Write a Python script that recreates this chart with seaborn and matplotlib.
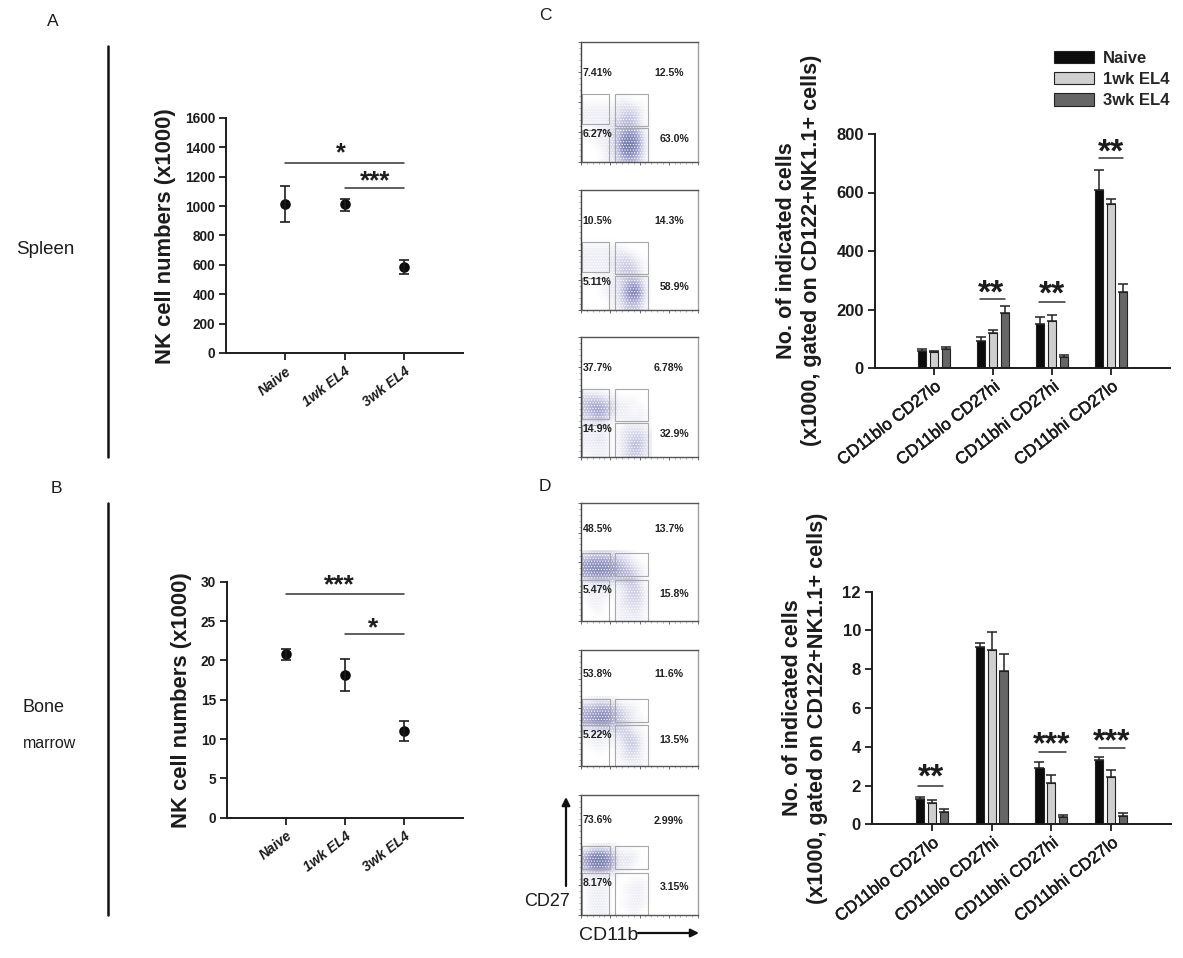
import matplotlib
matplotlib.use("Agg")
import matplotlib.pyplot as plt
import matplotlib.patheffects as pe
from matplotlib.colors import LinearSegmentedColormap
from matplotlib.patches import Rectangle
from matplotlib.ticker import MultipleLocator
import pandas as pd
import seaborn as sns

W, H = 1183, 958

# panels A and B
groups = ["Naive", "1wk EL4", "3wk EL4"]
spleen_mean = [1017, 1012, 586]
spleen_lo = [890, 967, 540]
spleen_hi = [1135, 1051, 631]
marrow_mean = [20.8, 18.2, 11.0]
marrow_lo = [20.1, 16.1, 9.7]
marrow_hi = [21.5, 20.2, 12.3]

# panels C and D
subsets = ["CD11blo CD27lo", "CD11blo CD27hi", "CD11bhi CD27hi", "CD11bhi CD27lo"]
spleen_bars = {
    "Naive": [59, 92, 150, 610],
    "1wk EL4": [55, 118, 162, 562],
    "3wk EL4": [64, 189, 39, 261],
}
spleen_tops = {
    "Naive": [64, 107, 174, 676],
    "1wk EL4": [59, 130, 180, 578],
    "3wk EL4": [72, 213, 43, 288],
}
marrow_bars = {
    "Naive": [1.30, 9.16, 2.92, 3.30],
    "1wk EL4": [1.08, 8.99, 2.11, 2.42],
    "3wk EL4": [0.65, 7.90, 0.40, 0.43],
}
marrow_tops = {
    "Naive": [1.41, 9.35, 3.23, 3.47],
    "1wk EL4": [1.25, 9.90, 2.54, 2.78],
    "3wk EL4": [0.81, 8.80, 0.46, 0.57],
}

# flow plots: event density read by eye, lower left part of each plot, top row first
c1_density = [
    [0, 0, 0, 0, 0, 0, 0, 0, 0, 0],
    [0, 0, 0, 0, 0, 1, 1, 0, 0, 0],
    [1, 1, 1, 1, 1, 2, 2, 2, 1, 0],
    [1, 1, 1, 1, 1, 2, 3, 3, 1, 0],
    [1, 1, 1, 1, 2, 3, 4, 3, 1, 0],
    [0, 0, 1, 1, 2, 3, 4, 4, 2, 0],
    [0, 0, 1, 1, 2, 4, 7, 6, 3, 0],
    [0, 0, 1, 1, 2, 4, 9, 7, 3, 0],
    [0, 0, 0, 1, 2, 4, 8, 6, 3, 0],
    [0, 0, 0, 1, 1, 3, 4, 4, 2, 0],
]
c2_density = [
    [0, 0, 0, 0, 0, 0, 0, 0, 0, 0],
    [1, 1, 1, 1, 1, 1, 0, 0, 0, 0],
    [1, 1, 1, 1, 1, 2, 2, 1, 0, 0],
    [1, 1, 1, 1, 2, 2, 3, 2, 1, 0],
    [1, 1, 1, 1, 1, 3, 3, 3, 1, 0],
    [0, 0, 1, 1, 1, 2, 3, 3, 2, 0],
    [0, 0, 0, 1, 1, 2, 4, 5, 3, 0],
    [0, 0, 0, 1, 1, 2, 5, 8, 4, 0],
    [0, 0, 0, 0, 1, 2, 4, 5, 3, 0],
    [0, 0, 0, 0, 1, 1, 3, 3, 2, 0],
]
c3_density = [
    [0, 0, 0, 0, 0, 0, 0, 0, 0, 0],
    [2, 2, 2, 1, 1, 0, 0, 0, 0, 0],
    [3, 4, 4, 3, 2, 1, 1, 1, 0, 0],
    [3, 4, 5, 4, 2, 1, 1, 0, 1, 0],
    [2, 3, 4, 3, 1, 1, 1, 1, 1, 0],
    [1, 1, 1, 1, 0, 0, 1, 1, 1, 0],
    [1, 1, 1, 1, 0, 1, 2, 2, 2, 1],
    [1, 1, 2, 1, 0, 1, 2, 3, 3, 1],
    [1, 1, 1, 1, 0, 1, 2, 4, 3, 1],
    [0, 1, 1, 1, 0, 1, 2, 3, 2, 1],
]
d1_density = [
    [1, 2, 2, 2, 2, 1, 1, 0, 0, 0],
    [4, 5, 5, 5, 4, 3, 2, 1, 0, 0],
    [5, 6, 6, 6, 5, 4, 3, 2, 1, 0],
    [4, 5, 6, 5, 5, 4, 4, 3, 1, 0],
    [1, 2, 2, 2, 2, 2, 3, 3, 1, 0],
    [0, 1, 1, 1, 0, 1, 2, 3, 2, 0],
    [0, 1, 1, 1, 0, 1, 2, 3, 2, 0],
    [0, 1, 1, 0, 0, 1, 2, 2, 2, 0],
    [0, 0, 1, 0, 0, 1, 1, 2, 1, 0],
    [0, 0, 0, 0, 0, 1, 1, 1, 1, 0],
]
d2_density = [
    [0, 1, 1, 1, 1, 0, 0, 0, 0, 0],
    [3, 3, 4, 4, 3, 2, 1, 1, 0, 0],
    [4, 5, 5, 6, 4, 3, 2, 1, 0, 0],
    [4, 5, 6, 6, 4, 3, 2, 1, 1, 0],
    [2, 2, 3, 3, 3, 3, 2, 1, 0, 0],
    [1, 1, 1, 1, 1, 2, 3, 2, 1, 0],
    [0, 1, 1, 1, 1, 1, 3, 3, 1, 0],
    [0, 0, 1, 0, 0, 1, 2, 3, 1, 0],
    [0, 0, 0, 0, 0, 1, 2, 2, 1, 0],
    [0, 0, 0, 0, 0, 0, 1, 1, 1, 0],
]
d3_density = [
    [0, 1, 1, 1, 1, 0, 0, 0, 0, 0],
    [3, 5, 6, 5, 3, 1, 1, 1, 0, 0],
    [4, 7, 9, 7, 4, 1, 2, 1, 0, 0],
    [3, 5, 6, 5, 3, 1, 1, 0, 0, 0],
    [1, 1, 1, 1, 1, 0, 0, 0, 0, 0],
    [0, 1, 1, 1, 0, 0, 0, 1, 1, 0],
    [0, 1, 1, 1, 0, 0, 1, 1, 1, 0],
    [0, 1, 1, 1, 0, 0, 0, 1, 1, 0],
    [0, 1, 1, 1, 0, 0, 1, 1, 1, 0],
    [0, 1, 1, 1, 0, 0, 0, 1, 0, 0],
]
c1_pct = ["7.41%", "12.5%", "6.27%", "63.0%"]
c2_pct = ["10.5%", "14.3%", "5.11%", "58.9%"]
c3_pct = ["37.7%", "6.78%", "14.9%", "32.9%"]
d1_pct = ["48.5%", "13.7%", "5.47%", "15.8%"]
d2_pct = ["53.8%", "11.6%", "5.22%", "13.5%"]
d3_pct = ["73.6%", "2.99%", "8.17%", "3.15%"]

sns.set_theme(style="ticks")
plt.rcParams["font.family"] = ["Liberation Sans", "DejaVu Sans"]
plt.rcParams["hatch.linewidth"] = 0.5
INK = "#1c1c1c"
BAR_COLORS = ["#0c0c0c", "#cfcfcf", "#666666"]
flow_cmap = LinearSegmentedColormap.from_list(
    "flow", ["#ffffff", "#e6e6f2", "#c6c6e2", "#a0a1cf", "#8387bb", "#727fa8", "#7f9c86"]
)

fig = plt.figure(figsize=(W / 100, H / 100), dpi=100)


def box(left, top, right, bottom):
    return fig.add_axes([left / W, 1 - bottom / H, (right - left) / W, (bottom - top) / H])


def fig_text(x, y, s, **kw):
    kw.setdefault("ha", "center")
    kw.setdefault("va", "center")
    kw.setdefault("color", INK)
    return fig.text(x / W, 1 - y / H, s, **kw)


def style_axis(ax, ymax, ystep, xmax):
    sns.despine(ax=ax)
    ax.set_xlim(-1, xmax)
    ax.set_ylim(0, ymax)
    ax.yaxis.set_major_locator(MultipleLocator(ystep))
    ax.set_xlabel("")
    ax.set_ylabel("")
    for side in ("left", "bottom"):
        ax.spines[side].set_linewidth(1.4)
        ax.spines[side].set_color(INK)
    ax.tick_params(width=1.3, length=5, color=INK, pad=3)
    ax.patch.set_alpha(0)


def sig(ax, x0, x1, y, stars, star_x, star_y, size):
    ax.plot([x0, x1], [y, y], color="#333333", lw=1.1, clip_on=False)
    ax.annotate(stars, (star_x, star_y), xytext=(0, -0.42 * size), textcoords="offset points",
                ha="center", va="baseline", fontsize=size, fontweight="bold", color=INK)


def point_panel(ax, mean, lo, hi, ymax, ystep):
    df = pd.DataFrame({"group": groups, "mean": mean})
    sns.pointplot(data=df, x="group", y="mean", order=groups, color="#0c0c0c", linestyle="none",
                  errorbar=None, marker="o", markersize=5.6, ax=ax)
    ax.errorbar(range(3), mean, yerr=[[m - l for m, l in zip(mean, lo)], [h - m for m, h in zip(mean, hi)]],
                fmt="none", ecolor=INK, elinewidth=1.2, capsize=3.8, capthick=1.2)
    style_axis(ax, ymax, ystep, 3)
    plt.setp(ax.get_yticklabels(), fontweight="bold", fontsize=9.8, color=INK)
    plt.setp(ax.get_xticklabels(), fontweight="bold", style="italic", fontsize=10,
             color=INK, rotation=38, ha="right", rotation_mode="anchor")


def bar_panel(ax, bars, tops, ymax, ystep):
    df = pd.DataFrame(bars, index=subsets).rename_axis("subset").reset_index()
    df = df.melt(id_vars="subset", var_name="group", value_name="count")
    sns.barplot(data=df, x="subset", y="count", hue="group", order=subsets, hue_order=groups,
                palette=BAR_COLORS, width=0.6, gap=0.32, errorbar=None, edgecolor="#222222",
                linewidth=0.8, ax=ax)
    for container, group in zip(ax.containers, groups):
        xs = [b.get_x() + b.get_width() / 2 for b in container]
        up = [t - v for t, v in zip(tops[group], bars[group])]
        ax.errorbar(xs, bars[group], yerr=[[0] * len(up), up], fmt="none", ecolor="#222222",
                    elinewidth=1.1, capsize=3.6, capthick=1.1)
    style_axis(ax, ymax, ystep, 4)
    plt.setp(ax.get_yticklabels(), fontweight="bold", fontsize=12, color=INK)
    plt.setp(ax.get_xticklabels(), fontsize=12.2, color="#1c1c1c", rotation=38, ha="right",
             rotation_mode="anchor", path_effects=[pe.withStroke(linewidth=0.4, foreground="#1c1c1c")])


def flow_panel(top, bottom, density, pct, gates, label_y):
    ax = box(581, top, 698, bottom)
    ax.imshow(density, extent=(0, 0.6, 0, 0.6), cmap=flow_cmap, vmin=0, vmax=9,
              interpolation="bicubic", aspect="auto", zorder=1)
    ax.set_xlim(0, 1)
    ax.set_ylim(0, 1)
    # white stipple so the cloud reads as dots rather than a smooth wash
    ax.add_patch(Rectangle((0, 0), 0.6, 0.6, fill=False, ec="white", lw=0, hatch="......", zorder=1.5))
    for x0, y0, x1, y1 in gates:
        ax.add_patch(Rectangle((x0, y0), x1 - x0, y1 - y0, fill=False, ec="#a8a8a8", lw=0.8, zorder=2))
    for side, color in (("left", "#444444"), ("top", "#555555"), ("bottom", "#555555"), ("right", "#a0a0a0")):
        ax.spines[side].set_visible(True)
        ax.spines[side].set_color(color)
        ax.spines[side].set_linewidth(1.0)
    ax.xaxis.set_major_locator(MultipleLocator(0.25))
    ax.yaxis.set_major_locator(MultipleLocator(0.25))
    ax.xaxis.set_minor_locator(MultipleLocator(0.05))
    ax.yaxis.set_minor_locator(MultipleLocator(0.05))
    ax.tick_params(which="major", length=2.5, width=0.6, color="#555555", labelbottom=False, labelleft=False)
    ax.tick_params(which="minor", length=1.2, width=0.4, color="#777777")
    xs = [0.015, 0.625, 0.015, 0.67]
    for x, y, s in zip(xs, label_y, pct):
        ax.text(x, y, s, fontsize=7.6, fontweight="bold", color="#222222", va="center", ha="left", zorder=3)


gates_c = [(0.005, 0.32, 0.24, 0.57), (0.29, 0.30, 0.57, 0.57), (0.005, 0.0, 0.24, 0.27), (0.29, 0.0, 0.57, 0.285)]
gates_d = [(0.005, 0.38, 0.25, 0.575), (0.29, 0.38, 0.57, 0.575), (0.005, 0.0, 0.24, 0.35), (0.29, 0.0, 0.57, 0.35)]

flow_panel(42, 162, c1_density, c1_pct, gates_c, [0.745, 0.745, 0.23, 0.195])
flow_panel(190, 310, c2_density, c2_pct, gates_c, [0.745, 0.745, 0.235, 0.19])
flow_panel(337, 457, c3_density, c3_pct, gates_c, [0.745, 0.745, 0.235, 0.19])
flow_panel(503, 621, d1_density, d1_pct, gates_d, [0.78, 0.78, 0.26, 0.225])
flow_panel(650, 766, d2_density, d2_pct, gates_d, [0.79, 0.79, 0.265, 0.225])
flow_panel(795, 915, d3_density, d3_pct, gates_d, [0.79, 0.785, 0.27, 0.23])

ax_a = box(226, 118, 463, 353)
point_panel(ax_a, spleen_mean, spleen_lo, spleen_hi, 1600, 200)
sig(ax_a, 0, 2, 1291, "*", 0.93, 1380, 18)
sig(ax_a, 1, 2, 1121, "***", 1.52, 1196, 18.5)

ax_b = box(227, 581.7, 463, 817.7)
point_panel(ax_b, marrow_mean, marrow_lo, marrow_hi, 30, 5)
sig(ax_b, 0, 2, 28.5, "***", 0.91, 30, 19)
sig(ax_b, 1, 2, 23.4, "*", 1.47, 24.6, 19)

ax_c = box(875, 134, 1170, 368)
bar_panel(ax_c, spleen_bars, spleen_tops, 800, 200)
sig(ax_c, 0.785, 1.21, 237, "**", 0.97, 272, 24)
sig(ax_c, 1.78, 2.225, 224.5, "**", 2.0, 267, 24)
sig(ax_c, 2.79, 3.21, 717, "**", 3.0, 754, 24)
sns.move_legend(ax_c, "upper left", bbox_to_anchor=(1054 / W, 1 - 50.5 / H), bbox_transform=fig.transFigure,
                title=None, frameon=False, handlelength=2.4, handleheight=0.78,
                labelspacing=0.38, handletextpad=0.54, borderpad=0, borderaxespad=0,
                prop={"weight": "bold", "size": 12})

ax_d = box(872, 591.7, 1171, 824.3)
bar_panel(ax_d, marrow_bars, marrow_tops, 12, 2)
ax_d.get_legend().remove()
sig(ax_d, -0.23, 0.19, 1.98, "**", -0.02, 2.66, 24)
sig(ax_d, 1.8, 2.24, 3.75, "***", 2.0, 4.35, 23)
sig(ax_d, 2.79, 3.23, 3.94, "***", 3.0, 4.49, 23)

fig_text(166, 236, "NK cell numbers (x1000)", rotation=90, fontsize=15.8, fontweight="bold")
fig_text(182, 700, "NK cell numbers (x1000)", rotation=90, fontsize=15.8, fontweight="bold")
fig_text(787, 251, "No. of indicated cells", rotation=90, fontsize=15.6, fontweight="bold")
fig_text(812, 250, "(x1000, gated on CD122+NK1.1+ cells)", rotation=90, fontsize=15.6, fontweight="bold")
fig_text(793, 708, "No. of indicated cells", rotation=90, fontsize=15.6, fontweight="bold")
fig_text(817, 708, "(x1000, gated on CD122+NK1.1+ cells)", rotation=90, fontsize=15.6, fontweight="bold")

for x, y, s, size in [(53, 22, "A", 12.5), (56, 488, "B", 12.5), (545, 15, "C", 12.5), (545, 486, "D", 12.5),
                      (45, 250, "Spleen", 13.5), (43, 708, "Bone", 13), (50, 743, "marrow", 11.5)]:
    fig_text(x, y, s, fontsize=size)

for top, bottom in [(46, 457), (503, 915)]:
    fig.add_artist(plt.Line2D([108 / W, 108 / W], [1 - top / H, 1 - bottom / H], color="#111111", lw=1.8))

fig_text(547, 902, "CD27", fontsize=13)
fig_text(608.5, 935, "CD11b", fontsize=14)
overlay = fig.add_axes([0, 0, 1, 1])
overlay.set_xlim(0, W)
overlay.set_ylim(H, 0)
overlay.axis("off")
overlay.annotate("", xy=(566, 797), xytext=(566, 886), arrowprops=dict(arrowstyle="-|>", color="#111111", lw=1.6, shrinkA=0, shrinkB=0))
overlay.annotate("", xy=(699, 933), xytext=(638, 933), arrowprops=dict(arrowstyle="-|>", color="#111111", lw=1.6, shrinkA=0, shrinkB=0))

fig.savefig("out.png", dpi=100)
plt.close(fig)
